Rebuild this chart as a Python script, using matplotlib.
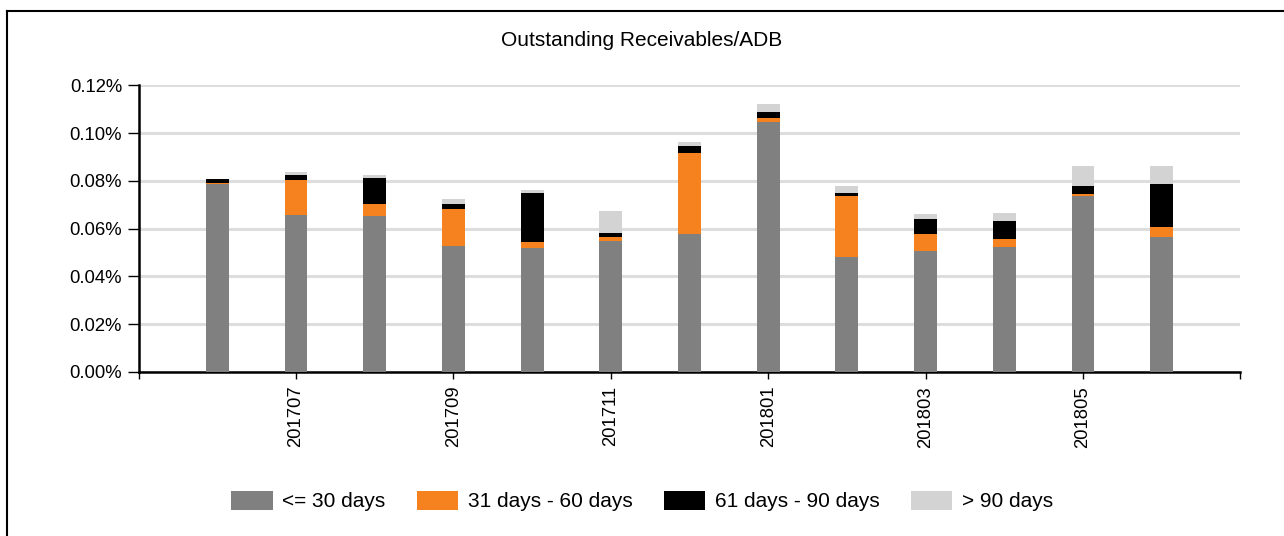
import numpy as np
import matplotlib.pyplot as plt
from matplotlib.lines import Line2D
from matplotlib.ticker import FuncFormatter

plt.rcParams['font.family'] = ['Liberation Sans', 'DejaVu Sans']

# data (percent of ADB)
months = ['201706', '201707', '201708', '201709', '201710', '201711', '201712',
          '201801', '201802', '201803', '201804', '201805', '201806']
d30 = [0.0785, 0.0655, 0.0653, 0.0528, 0.0519, 0.0547, 0.0579,
       0.1047, 0.0480, 0.0505, 0.0522, 0.0737, 0.0564]
d60 = [0.0007, 0.0150, 0.0048, 0.0155, 0.0025, 0.0017, 0.0338,
       0.0014, 0.0257, 0.0072, 0.0034, 0.0007, 0.0043]
d90 = [0.0015, 0.0021, 0.0110, 0.0018, 0.0206, 0.0018, 0.0028,
       0.0029, 0.0011, 0.0064, 0.0076, 0.0035, 0.0179]
d90p = [0.0000, 0.0010, 0.0013, 0.0024, 0.0012, 0.0091, 0.0017,
        0.0031, 0.0032, 0.0022, 0.0032, 0.0082, 0.0075]

series = [d30, d60, d90, d90p]
names = ['<= 30 days', '31 days - 60 days', '61 days - 90 days', '> 90 days']
colors = ['#808080', '#F5821F', '#000000', '#D3D3D3']

fig = plt.figure(figsize=(12.84, 5.36), dpi=100)
ax = fig.add_axes([0.108, 0.306, 0.858, 0.535])

x = np.arange(len(months))
bottom = np.zeros(len(months))
for vals, name, col in zip(series, names, colors):
    ax.bar(x, vals, 0.29, bottom=bottom, color=col, label=name, zorder=3)
    bottom += np.array(vals)

ax.set_xlim(-1, 13)
ax.set_ylim(0, 0.12)
ax.set_yticks(np.arange(0, 0.121, 0.02))
ax.yaxis.set_major_formatter(FuncFormatter(lambda v, p: f'{v:.2f}%'))
ticks = np.arange(-1, 14, 2)
ax.set_xticks(ticks)
ax.set_xticklabels([months[t] if 0 <= t < len(months) else '' for t in ticks],
                   rotation=90)
ax.grid(axis='y', color='#DDDDDD', linewidth=2.2, zorder=0)
for s in ['top', 'right']:
    ax.spines[s].set_visible(False)
ax.spines['left'].set_linewidth(1.8)
ax.spines['bottom'].set_linewidth(1.8)
ax.tick_params(axis='y', length=8, width=1, labelsize=13.3, pad=4)
ax.tick_params(axis='x', length=5, width=1, labelsize=13.3, pad=5)

fig.text(0.5, 0.925, 'Outstanding Receivables/ADB', ha='center', va='center', fontsize=15)

fig.legend(loc='center', bbox_to_anchor=(0.5, 0.065), ncol=4, frameon=False,
           fontsize=15, handlelength=2.0, handleheight=1.0, columnspacing=1.5,
           handletextpad=0.45)

# outer frame
fig.add_artist(Line2D([7 / 1284, 7 / 1284], [0, 1 - 11 / 536], color='black', lw=1.5,
                      transform=fig.transFigure))
fig.add_artist(Line2D([7 / 1284, 1], [1 - 11 / 536, 1 - 11 / 536], color='black', lw=1.5,
                      transform=fig.transFigure))

fig.savefig('out.png', dpi=100)
